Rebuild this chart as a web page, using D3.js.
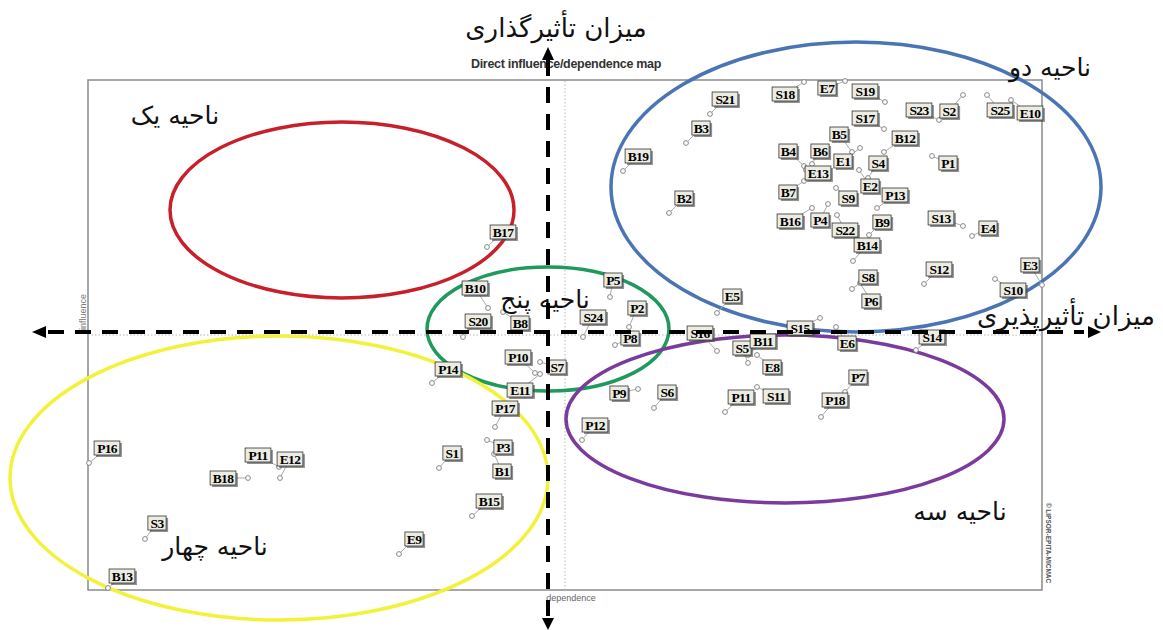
<!DOCTYPE html>
<html><head><meta charset="utf-8">
<script src="https://cdn.jsdelivr.net/npm/d3@7"></script>
<style>body{margin:0;background:#fff}svg{display:block}</style>
</head><body><svg id="c" width="1163" height="630"></svg>
<script>
// ---- data (arbitrary MICMAC units: dependence on x, influence on y) ----
const labels = ["S18","E7","S19","S23","S2","S25","E10","S17","B5","B12","E1","S4","E2","P1","S9","P13","B9","S22","S13","E4","B14","B4","B6","E13","B7","B16","P4","S21","B3","B19","B2","S12","S8","P6","S10","E3","E5","S15","S16","S5","B11","E8","E6","S14","P7","P18","P11","S11","P9","S6","P12","B17","P5","B10","B8","S20","S24","P2","P8","P10","S7","E11","P14","P17","P3","B1","S1","B15","E9","P16","P11","E12","B18","S3","B13"];
const dependence = [716,757,797,851,875,899,923,796,764,796,772,780,771,844,748,789,781,749,875,884,765,716,724,718,716,724,740,622,598,535,581,836,764,772,907,954,629,732,629,660,660,669,748,828,757,733,637,669,550,566,494,399,522,400,415,375,495,541,527,447,452,452,344,407,399,406,351,384,311,1,191,192,160,57,20];
const influence  = [508,509,488,470,495,495,490,461,438,438,442,412,420,434,402,382,355,375,364,354,329,424,426,420,409,382,386,476,447,419,377,306,301,307,311,305,277,272,239,227,235,235,263,240,198,173,178,203,201,182,150,343,293,282,278,253,253,263,245,217,228,216,207,163,150,136,122,74,36,127,123,112,112,51,2];
// label offsets (layout only), index-aligned with labels
const labelDx = [-19,-18,-20,-20,-14,13,19,-19,-13,21,-17,10,11,16,12,18,13,8,-22,16,14,-16,8,12,-16,-22,-8,15,15,15,15,15,16,11,18,-12,15,-20,-17,-6,15,15,11,16,13,14,16,19,-19,13,13,16,3,-13,17,15,10,8,15,-17,17,-20,16,10,16,8,13,17,15,18,-21,10,-25,12,14];
const labelDy = [12,7,-11,-10,16,15,13,-11,-18,-14,13,-15,16,7,10,-13,-13,15,-8,-8,-16,-15,-13,3,11,13,16,-15,-15,-15,-15,-15,-12,18,11,-20,-17,10,-18,-15,-14,12,16,-13,-15,-17,-15,9,4,-16,-15,-15,-17,-20,11,-16,-20,-19,-7,-16,5,16,-14,-19,7,17,-15,-15,-15,-15,-12,-19,0,-16,-12];

const zones = [
  {name:"ناحیه یک",  cx:254, cy:380, rx:172, ry:88,  color:"#c8202a"},
  {name:"ناحیه دو",  cx:768, cy:403, rx:245, ry:145, color:"#4a74b4"},
  {name:"ناحیه پنج", cx:460, cy:261, rx:121, ry:62,  color:"#1f9a5c"},
  {name:"ناحیه سه",  cx:697, cy:171, rx:219, ry:84,  color:"#7b3b9c"},
  {name:"ناحیه چهار",cx:191, cy:112, rx:269, ry:142, color:"#f2f23c"}
];
const zoneText = [
  {t:"ناحیه یک", x:87, y:466},
  {t:"ناحیه دو", x:962, y:514},
  {t:"ناحیه پنج", x:457, y:282},
  {t:"ناحیه سه", x:872, y:70},
  {t:"ناحیه چهار", x:127, y:35}
];
const xMax = 954, yMax = 510;

// ---- drawing ----
const svg = d3.select("#c");
const x = d3.scaleLinear().domain([0, xMax]).range([88, 1042]);
const y = d3.scaleLinear().domain([0, yMax]).range([590, 80]);

svg.append("rect").attr("width",1163).attr("height",630).attr("fill","#fff");

// frame
svg.append("rect").attr("x",x(0)).attr("y",y(yMax)).attr("width",x(xMax)-x(0)).attr("height",y(0)-y(yMax))
  .attr("fill","none").attr("stroke","#8a8a8a").attr("stroke-width",1.5);
// mean lines
svg.append("line").attr("x1",x(xMax/2)).attr("x2",x(xMax/2)).attr("y1",y(0)).attr("y2",y(yMax))
  .attr("stroke","#b5b5b5").attr("stroke-dasharray","1.5,2").attr("stroke-width",1);
svg.append("line").attr("x1",x(0)).attr("x2",x(xMax)).attr("y1",y(yMax/2)).attr("y2",y(yMax/2))
  .attr("stroke","#b5b5b5").attr("stroke-dasharray","1.5,2").attr("stroke-width",1);

// small texts
svg.append("text").attr("x",566).attr("y",68).attr("text-anchor","middle")
  .attr("font-family","Liberation Sans, Arial").attr("font-weight","bold").attr("font-size",12.5)
  .attr("letter-spacing",-0.3).attr("fill","#333").text("Direct influence/dependence map");
svg.append("text").attr("transform","translate(86,312) rotate(-90)").attr("text-anchor","middle")
  .attr("font-family","Liberation Sans, Arial").attr("font-size",9).attr("fill","#777").text("influence");
svg.append("text").attr("x",571).attr("y",601).attr("text-anchor","middle")
  .attr("font-family","Liberation Sans, Arial").attr("font-size",9).attr("fill","#666").text("dependence");
svg.append("text").attr("transform","translate(1046,543) rotate(90)").attr("text-anchor","middle")
  .attr("font-family","Liberation Sans, Arial").attr("font-size",6.5).attr("font-weight","bold").attr("fill","#555")
  .text("© LIPSOR-EPITA-MICMAC");

// zone ellipses
svg.append("g").selectAll("ellipse").data(zones).join("ellipse")
  .attr("cx",d=>x(d.cx)).attr("cy",d=>y(d.cy))
  .attr("rx",d=>x(d.rx)-x(0)).attr("ry",d=>y(0)-y(d.ry))
  .attr("fill","none").attr("stroke",d=>d.color).attr("stroke-width",3.5);

// points & labels
const pts = labels.map((l,i)=>({l, dx:labelDx[i], dy:labelDy[i], px:x(dependence[i]), py:y(influence[i])}));
const g = svg.append("g");
g.selectAll("line.lk").data(pts).join("line").attr("class","lk")
  .attr("x1",d=>d.px).attr("y1",d=>d.py).attr("x2",d=>d.px+d.dx*0.7).attr("y2",d=>d.py+d.dy*0.7)
  .attr("stroke","#aaa").attr("stroke-width",1);
g.selectAll("circle").data(pts).join("circle")
  .attr("cx",d=>d.px).attr("cy",d=>d.py).attr("r",2.4)
  .attr("fill","#fff").attr("stroke","#888").attr("stroke-width",1);
const lab = g.selectAll("g.lb").data(pts).join("g").attr("class","lb")
  .attr("transform",d=>`translate(${d.px+d.dx},${d.py+d.dy})`);
lab.each(function(d){
  const s = d3.select(this);
  const w = d.l.length*7.6+3, h = 14;
  s.append("rect").attr("x",-w/2+2).attr("y",-h/2+2).attr("width",w).attr("height",h).attr("fill","#555").attr("opacity",0.65);
  s.append("rect").attr("x",-w/2).attr("y",-h/2).attr("width",w).attr("height",h).attr("fill","#ecece2").attr("stroke","#333").attr("stroke-width",0.8);
  s.append("text").attr("y",4.5).attr("text-anchor","middle").attr("font-family","Liberation Serif, Times New Roman")
    .attr("font-weight","bold").attr("font-size",13.5).attr("letter-spacing",-0.7).attr("fill","#000").text(d.l);
});

// zone names
svg.append("g").selectAll("text").data(zoneText).join("text")
  .attr("x",d=>x(d.x)).attr("y",d=>y(d.y)).attr("text-anchor","middle")
  .attr("font-family","DejaVu Sans").attr("font-size",25).attr("fill","#111")
  .attr("direction","rtl").text(d=>d.t);

// dashed axis arrows
const ax = svg.append("g").attr("stroke","#000");
ax.append("line").attr("x1",548).attr("x2",548).attr("y1",60).attr("y2",618)
  .attr("stroke-width",4).attr("stroke-dasharray","16,11");
ax.append("line").attr("x1",48).attr("x2",1084).attr("y1",332).attr("y2",332)
  .attr("stroke-width",4).attr("stroke-dasharray","16,11");
const arr = svg.append("g").attr("fill","#000");
arr.append("path").attr("d","M548,47 L542,60 L554,60 Z");
arr.append("path").attr("d","M548,630 L542,618 L554,618 Z");
arr.append("path").attr("d","M32,332 L46,326 L46,338 Z");
arr.append("path").attr("d","M1101,332 L1088,326 L1088,338 Z");

// axis titles
svg.append("text").attr("x",556).attr("y",37).attr("text-anchor","middle")
  .attr("font-family","DejaVu Sans").attr("font-size",26).attr("fill","#111").attr("direction","rtl").text("میزان تأثیرگذاری");
svg.append("text").attr("x",1066).attr("y",325).attr("text-anchor","middle")
  .attr("font-family","DejaVu Sans").attr("font-size",26).attr("fill","#111").attr("direction","rtl").text("میزان تأثیرپذیری");
</script></body></html>
